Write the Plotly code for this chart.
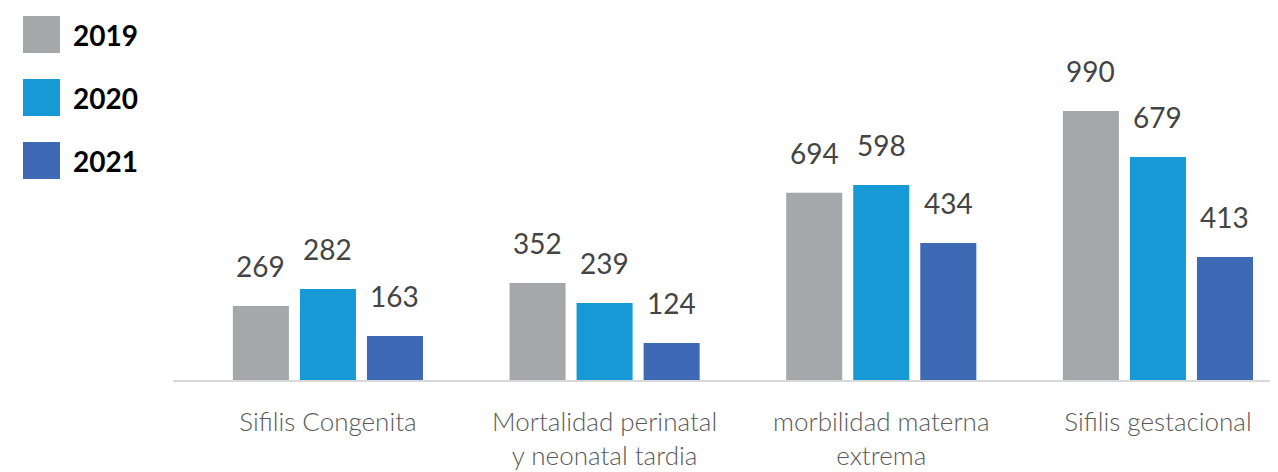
from plotly import graph_objects as go

# Categories and values as printed on the chart
categories = [
    "Sifilis Congenita",
    "Mortalidad perinatal<br>y neonatal tardia",
    "morbilidad materna<br>extrema",
    "Sifilis gestacional",
]
years = ["2019", "2020", "2021"]
labels_2019 = [269, 352, 694, 990]
labels_2020 = [282, 239, 598, 679]
labels_2021 = [163, 124, 434, 413]

# Bar lengths as drawn in the picture (read against the 2019 scale)
heights_2019 = [272, 357, 688, 989]
heights_2020 = [335, 283, 717, 820]
heights_2021 = [162, 136, 504, 452]

colors = ["#A6A7AB", "#1799D6", "#3E69B5"]
OFF = 8  # page body margin
W, H = 1278 - OFF, 472 - OFF


def px(x):
    return (x - OFF) / W


def py(y):
    return (H - (y - OFF)) / H


def main():
    series = [
        (years[0], heights_2019, labels_2019),
        (years[1], heights_2020, labels_2020),
        (years[2], heights_2021, labels_2021),
    ]

    fig = go.Figure()
    annotations = []
    for i, (name, heights, labels) in enumerate(series):
        fig.add_trace(
            go.Bar(
                x=categories,
                y=heights,
                name=name,
                marker=dict(color=colors[i], line=dict(width=0)),
                hovertext=[str(v) for v in labels],
            )
        )
        # value labels above the bars
        for cat, h, lab in zip(categories, heights, labels):
            annotations.append(
                dict(
                    x=cat,
                    y=h,
                    xref="x",
                    yref="y",
                    text=str(lab),
                    showarrow=False,
                    yanchor="bottom",
                    xshift=(i - 1) * 67,
                    yshift=21,
                    font=dict(family="Lato", size=28, color="#444444"),
                )
            )

    # custom legend with large squares
    shapes = []
    for i, name in enumerate(years):
        top = 16 + i * 63
        shapes.append(
            dict(
                type="rect",
                xref="paper",
                yref="paper",
                x0=px(23),
                x1=px(60),
                y0=py(top + 37),
                y1=py(top),
                fillcolor=colors[i],
                line=dict(width=0),
            )
        )
        annotations.append(
            dict(
                x=px(71),
                y=py(top + 18.5),
                xref="paper",
                yref="paper",
                text="<b>" + name + "</b>",
                showarrow=False,
                xanchor="left",
                yanchor="middle",
                font=dict(family="Lato", size=28, color="#000000"),
            )
        )

    fig.update_layout(
        width=W,
        height=H,
        margin=dict(l=0, r=0, t=0, b=0),
        paper_bgcolor="white",
        plot_bgcolor="white",
        barmode="group",
        bargap=0.273,
        bargroupgap=0.164,
        showlegend=False,
        shapes=shapes,
        annotations=annotations,
        xaxis=dict(
            domain=[px(173), 1],
            range=[-0.56, 3.434],
            showline=True,
            linecolor="#D9D9D9",
            linewidth=2,
            showgrid=False,
            ticks="outside",
            ticklen=18,
            tickcolor="rgba(0,0,0,0)",
            tickfont=dict(family="Lato", size=26, color="#595959", weight=300),
        ),
        yaxis=dict(
            domain=[py(380), 1],
            range=[0, 0.272 ** -1 * (380 - OFF)],
            visible=False,
            showgrid=False,
        ),
    )

    fig.write_html("out.html")


if __name__ == "__main__":
    main()
